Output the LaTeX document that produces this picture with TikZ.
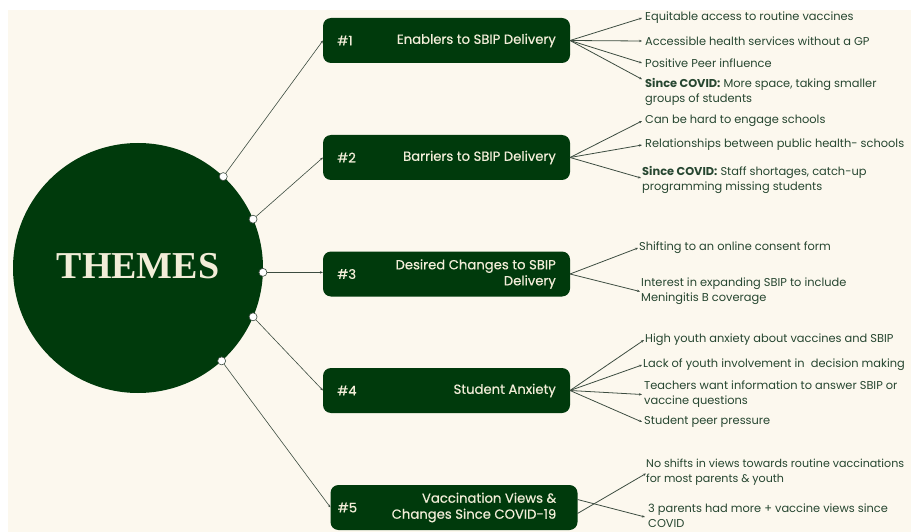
\documentclass[tikz,border=0pt]{standalone}
\usepackage{fontspec}
\setmainfont{Poppins}
\newfontfamily\boxfont[FakeBold=0.4]{Poppins}
\newfontfamily\themefont{Liberation Serif}
\usetikzlibrary{arrows.meta}

\definecolor{bgcream}{RGB}{252,248,238}
\definecolor{forest}{RGB}{0,58,12}
\definecolor{boxtext}{RGB}{242,237,216}
\definecolor{itemtext}{RGB}{38,70,48}
\definecolor{linkgray}{RGB}{60,76,64}

\tikzset{
  hub/.style={circle, fill=forest, minimum size=250pt, inner sep=0pt, outer sep=0pt},
  port/.style={circle, fill=white, draw=linkgray, line width=0.6pt, minimum size=8pt, inner sep=0pt},
  themebox/.style={rounded corners=8pt, fill=forest, minimum width=247pt, minimum height=45pt, inner sep=0pt, outer sep=0pt},
  boxnum/.style={anchor=west, text=boxtext, font=\boxfont\fontsize{13.2}{16}\selectfont, inner sep=0pt},
  boxlabel/.style={anchor=east, align=right, text=boxtext, font=\boxfont\fontsize{13.2}{16}\selectfont, inner sep=0pt},
  item/.style={anchor=west, align=left, text=itemtext, font=\fontsize{11.4}{14.8}\selectfont, inner sep=0pt},
  hublink/.style={draw=linkgray, line width=0.6pt, -{Stealth[length=3pt,width=2.4pt]}},
  itemlink/.style={draw=linkgray, line width=0.8pt, -{Stealth[length=3pt,width=2.4pt]}},
}

\begin{document}
\begin{tikzpicture}[x=1pt, y=-1pt]
  % page and background panel
  \useasboundingbox (0,0) rectangle (911,532);
  \fill[white] (0,0) rectangle (911,532);
  \fill[bgcream] (8,10) rectangle (911,532);

  % central hub
  \node[hub] (themes) at (138,268) {};
  \node[text=boxtext, font=\themefont\bfseries\fontsize{38}{40}\selectfont, inner sep=0pt] (themelabel) at (138,266) {THEMES};

  % theme boxes
  \node[themebox] (b1) at (446.5,40.5) {};
  \node[themebox] (b2) at (446.5,157.5) {};
  \node[themebox] (b3) at (446.5,274) {};
  \node[themebox] (b4) at (446.5,390.5) {};
  \node[themebox] (b5) at (454,507.5) {};

  \node[boxnum] (n1) at ([xshift=14pt]b1.west) {\#1};
  \node[boxnum] (n2) at ([xshift=14pt]b2.west) {\#2};
  \node[boxnum] (n3) at ([xshift=14pt]b3.west) {\#3};
  \node[boxnum] (n4) at ([xshift=14pt]b4.west) {\#4};
  \node[boxnum] (n5) at ([xshift=7pt]b5.west) {\#5};

  \node[boxlabel] (l1) at ([xshift=-14pt]b1.east) {Enablers to SBIP Delivery};
  \node[boxlabel] (l2) at ([xshift=-14pt]b2.east) {Barriers to SBIP Delivery};
  \node[boxlabel] (l3) at ([xshift=-14pt]b3.east) {Desired Changes to SBIP\\Delivery};
  \node[boxlabel] (l4) at ([xshift=-14pt]b4.east) {Student Anxiety};
  \node[boxlabel] (l5) at ([xshift=-21pt]b5.east) {Vaccination Views \&\\Changes Since COVID-19};

  % ports on the hub
  \node[port] (p1) at (themes.47) {};
  \node[port] (p2) at (themes.23) {};
  \node[port] (p3) at (themes.-2) {};
  \node[port] (p4) at (themes.-23) {};
  \node[port] (p5) at (themes.-48) {};

  \draw[hublink] (p1) -- (b1.west);
  \draw[hublink] (p2) -- (b2.west);
  \draw[hublink] (p3) -- (p3 -| b3.west);
  \draw[hublink] (p4) -- (b4.west);
  \draw[hublink] (p5) -- (b5.west);

  % theme 1 items
  \node[item] (i11) at (645,18) {Equitable access to routine vaccines};
  \node[item] (i12) at (645,41) {Accessible health services without a GP};
  \node[item] (i13) at (645,63) {Positive Peer influence};
  \node[item] (i14) at (645,92) {\textbf{Since COVID:} More space, taking smaller\\groups of students};
  % theme 2 items
  \node[item] (i21) at (645,121) {Can be hard to engage schools};
  \node[item] (i22) at (645,145) {Relationships between public health- schools};
  \node[item] (i23) at (642,180) {\textbf{Since COVID:} Staff shortages, catch-up\\programming missing students};
  % theme 3 items
  \node[item] (i31) at (639,248) {Shifting to an online consent form};
  \node[item] (i32) at (641,291.5) {Interest in expanding SBIP to include\\Meningitis B coverage};
  % theme 4 items
  \node[item] (i41) at (645,340) {High youth anxiety about vaccines and SBIP};
  \node[item] (i42) at (643,365) {Lack of youth involvement in\ \ decision making};
  \node[item] (i43) at (644,394.5) {Teachers want information to answer SBIP or\\vaccine questions};
  \node[item] (i44) at (644,422) {Student peer pressure};
  % theme 5 items
  \node[item, font=\fontsize{11.1}{14.8}\selectfont] (i51) at (646,472.5) {No shifts in views towards routine vaccinations\\for most parents \& youth};
  \node[item] (i52) at (648,516) {3 parents had more + vaccine views since\\COVID};

  % item connectors
  \draw[itemlink] (b1.east) -- ([xshift=-3pt]i11.west);
  \draw[itemlink] (b1.east) -- ([xshift=-3pt]i12.west);
  \draw[itemlink] (b1.east) -- ([xshift=-3pt]i13.west);
  \draw[itemlink] (b1.east) -- ([xshift=-3pt,yshift=-1pt]i14.north west);

  \draw[itemlink] (b2.east) -- ([xshift=-3pt]i21.west);
  \draw[itemlink] (b2.east) -- ([xshift=-3pt]i22.west);
  \draw[itemlink] (b2.east) -- ([xshift=-1pt,yshift=2pt]i23.west);

  \draw[itemlink] (b3.east) -- ([xshift=-1pt]i31.west);
  \draw[itemlink] (b3.east) -- ([xshift=-1pt]i32.west);

  \draw[itemlink] (b4.east) -- ([xshift=-1pt]i41.west);
  \draw[itemlink] (b4.east) -- ([xshift=-1pt]i42.west);
  \draw[itemlink] (b4.east) -- ([xshift=-2pt]i43.west);
  \draw[itemlink] (b4.east) -- ([xshift=-2pt]i44.west);

  % the two theme-5 connectors leave the box crossed
  \draw[itemlink] ([yshift=-6pt]b5.east) -- ([xshift=0pt,yshift=-1pt]i51.west);
  \draw[itemlink] ([yshift=8pt]b5.east) -- ([xshift=-3pt,yshift=-1pt]i52.west);
\end{tikzpicture}
\end{document}
